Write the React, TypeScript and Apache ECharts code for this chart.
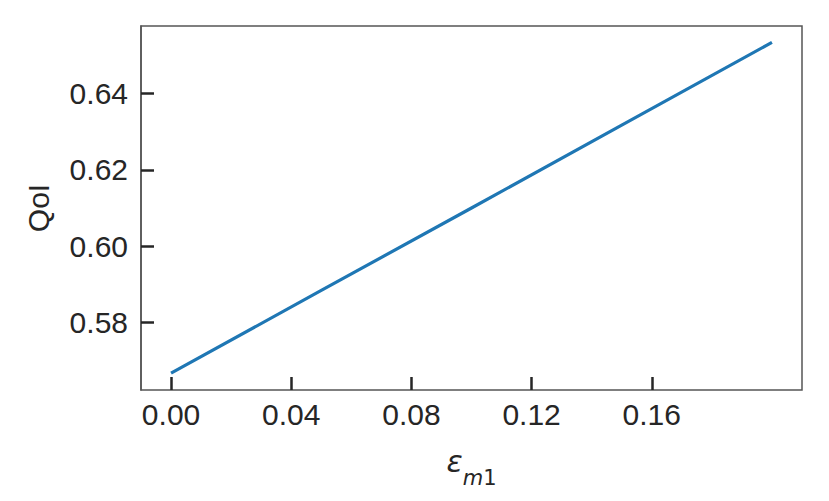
import React, { useEffect, useRef } from "react";
import * as echarts from "echarts";

const epsValues = [0.0, 0.05, 0.1, 0.15, 0.2];
const qoiValues = [0.5667, 0.5884, 0.61, 0.6317, 0.6534];
const xTicks = [0.0, 0.04, 0.08, 0.12, 0.16];
const yTicks = [0.58, 0.6, 0.62, 0.64];

export default function App() {
  const ref = useRef<HTMLDivElement>(null);
  useEffect(() => {
    if (!ref.current) return;
    const chart = echarts.init(ref.current, null, { renderer: "svg" });
    const textColor = "#262626";
    const font = "Liberation Sans, Arial, sans-serif";
    chart.setOption({
      animation: false,
      backgroundColor: "#ffffff",
      grid: {
        left: 141,
        top: 26,
        width: 661,
        height: 364,
        show: true,
        borderColor: "#555555",
        borderWidth: 1.5,
        backgroundColor: "transparent",
      },
      xAxis: {
        type: "value",
        position: "bottom",
        min: -0.01,
        max: 0.21,
        splitLine: { show: false },
        axisLine: { show: false, onZero: false },
        axisTick: {
          show: true,
          inside: true,
          length: 13,
          customValues: xTicks,
          lineStyle: { color: textColor, width: 2.5 },
        },
        axisLabel: {
          customValues: xTicks,
          formatter: (v: number) => v.toFixed(2),
          color: textColor,
          fontSize: 30,
          fontFamily: font,
          margin: 9,
        },
        name: "{e|ε}{s|m}{n|1}",
        nameLocation: "middle",
        nameGap: 56,
        nameTextStyle: {
          rich: {
            e: {
              fontSize: 30,
              fontStyle: "italic",
              fontFamily: "DejaVu Sans",
              color: textColor,
              verticalAlign: "bottom",
            },
            s: {
              fontSize: 21,
              fontStyle: "italic",
              fontFamily: "DejaVu Sans",
              color: textColor,
              verticalAlign: "bottom",
              padding: [0, 0, -12, 0],
            },
            n: {
              fontSize: 21,
              fontFamily: "DejaVu Sans",
              color: textColor,
              verticalAlign: "bottom",
              padding: [0, 0, -12, 0],
            },
          },
        },
      },
      yAxis: {
        type: "value",
        position: "left",
        min: 0.5623,
        max: 0.6577,
        splitLine: { show: false },
        axisLine: { show: true, onZero: false, lineStyle: { color: "#555555", width: 1.5 } },
        axisTick: {
          show: true,
          inside: true,
          length: 13,
          customValues: yTicks,
          lineStyle: { color: textColor, width: 2.5 },
        },
        axisLabel: {
          customValues: yTicks,
          formatter: (v: number) => v.toFixed(2),
          color: textColor,
          fontSize: 30,
          fontFamily: font,
          margin: 13,
        },
        name: "QoI",
        nameLocation: "middle",
        nameGap: 88,
        nameRotate: 90,
        nameTextStyle: {
          color: textColor,
          fontSize: 30,
          fontFamily: font,
        },
      },
      series: [
        {
          type: "line",
          data: epsValues.map((x, i) => [x, qoiValues[i]]),
          showSymbol: false,
          lineStyle: { color: "#1f77b4", width: 3.2 },
        },
      ],
    });
    return () => chart.dispose();
  }, []);
  return (
    <div
      ref={ref}
      style={{ position: "fixed", left: 0, top: 0, width: 829, height: 501 }}
    />
  );
}
